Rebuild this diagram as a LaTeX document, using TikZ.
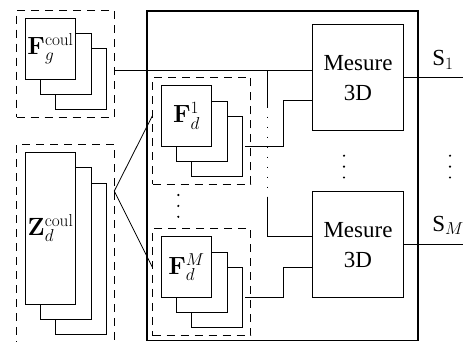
\documentclass[tikz,border=0pt]{standalone}
\usepackage[no-math]{fontspec}
\setmainfont{Liberation Serif}
\begin{document}
\begin{tikzpicture}[x=1pt, y=-1pt, line width=0.8pt,
    font=\fontsize{23}{30}\selectfont,
    sheet/.style={draw, fill=white, inner sep=0pt, minimum width=50.4pt},
    group/.style={draw, dash pattern=on 8pt off 6pt, inner sep=0pt},
    unit/.style={draw, inner sep=0pt, minimum width=90.6pt, minimum height=106pt, align=center}]
    \useasboundingbox (0,0) rectangle (473,342);
    \node[draw, line width=1.8pt, inner sep=0pt, minimum width=271.6pt, minimum height=329.8pt] (frame) at (282.5,175.6) {};
    \node[group, minimum width=97.6pt, minimum height=107.3pt] (gbox) at (65.5,63.7) {};
    \node[group, minimum width=97.6pt, minimum height=210pt] (zbox) at (65.5,249.3) {};
    \node[group, minimum width=98pt, minimum height=107pt] (d1box) at (201.7,130.8) {};
    \node[group, minimum width=98pt, minimum height=107.4pt] (dMbox) at (201.7,282) {};
    \foreach \n/\x/\y/\h in {g/50.5/48.7/60.7, z/50.5/228.3/151.3, a/186.5/115.9/60.3, b/186.5/267/60.6}
      \foreach \k in {2,1} \node[sheet, minimum height=\h pt] (\n\k) at (\x+15.2*\k, \y+15.2*\k) {};
    \node[sheet, minimum height=60.7pt] (g0) at (50.5,48.7) {$\mathbf{F}_g^{\mathrm{coul}}$};
    \node[sheet, minimum height=151.3pt] (z0) at (50.5,228.3) {$\mathbf{Z}_d^{\mathrm{coul}}$};
    \node[sheet, minimum height=60.3pt] (a0) at (186.5,115.9) {$\mathbf{F}_d^{1}$};
    \node[sheet, minimum height=60.6pt] (b0) at (186.5,267) {$\mathbf{F}_d^{M}$};
    \node[unit] (mes1) at (358,77.85) {Mesure\\3D};
    \node[unit] (mes2) at (358,244.7) {Mesure\\3D};
    % connexions
    \coordinate (tap) at (267.3,70.7);
    \coordinate (fork) at (114.3,191);
    \draw (gbox.east |- tap) -- (tap) -- (mes1.west |- tap);
    \draw (tap) -- ++(0,36) coordinate (tapA);
    \draw[dash pattern=on 1.2pt off 8.8pt] (tapA) -- ++(0,90) coordinate (tapB);
    \draw (tapB) -- ++(0,6) |- (mes2.west |- b0.north);
    \draw ([xshift=-5.7pt]d1box.east |- a0.south) -- ++(37.7,0) |- (mes1.west |- a1.north);
    \draw ([xshift=-5.7pt]dMbox.east |- b0.south) -- ++(37.7,0) |- (mes2.west |- b0.center);
    \draw (d1box.west |- a0) -- (fork) -- (dMbox.west |- b0);
    \draw (mes1.east) -- ++(59.4,0) coordinate (s1end);
    \draw (mes2.east) -- ++(59.4,0) coordinate (sMend);
    \node[anchor=base west, inner sep=0pt] (s1) at (432,66) {S$_1$};
    \node[anchor=base west, inner sep=0pt] (sM) at (432,231) {S$_M$};
    \foreach \x/\y in {178.3/195, 344/155.7, 450/155.7}
      \foreach \d in {0,1,2} \fill (\x,\y+10.9*\d) circle (1.2);
\end{tikzpicture}
\end{document}
